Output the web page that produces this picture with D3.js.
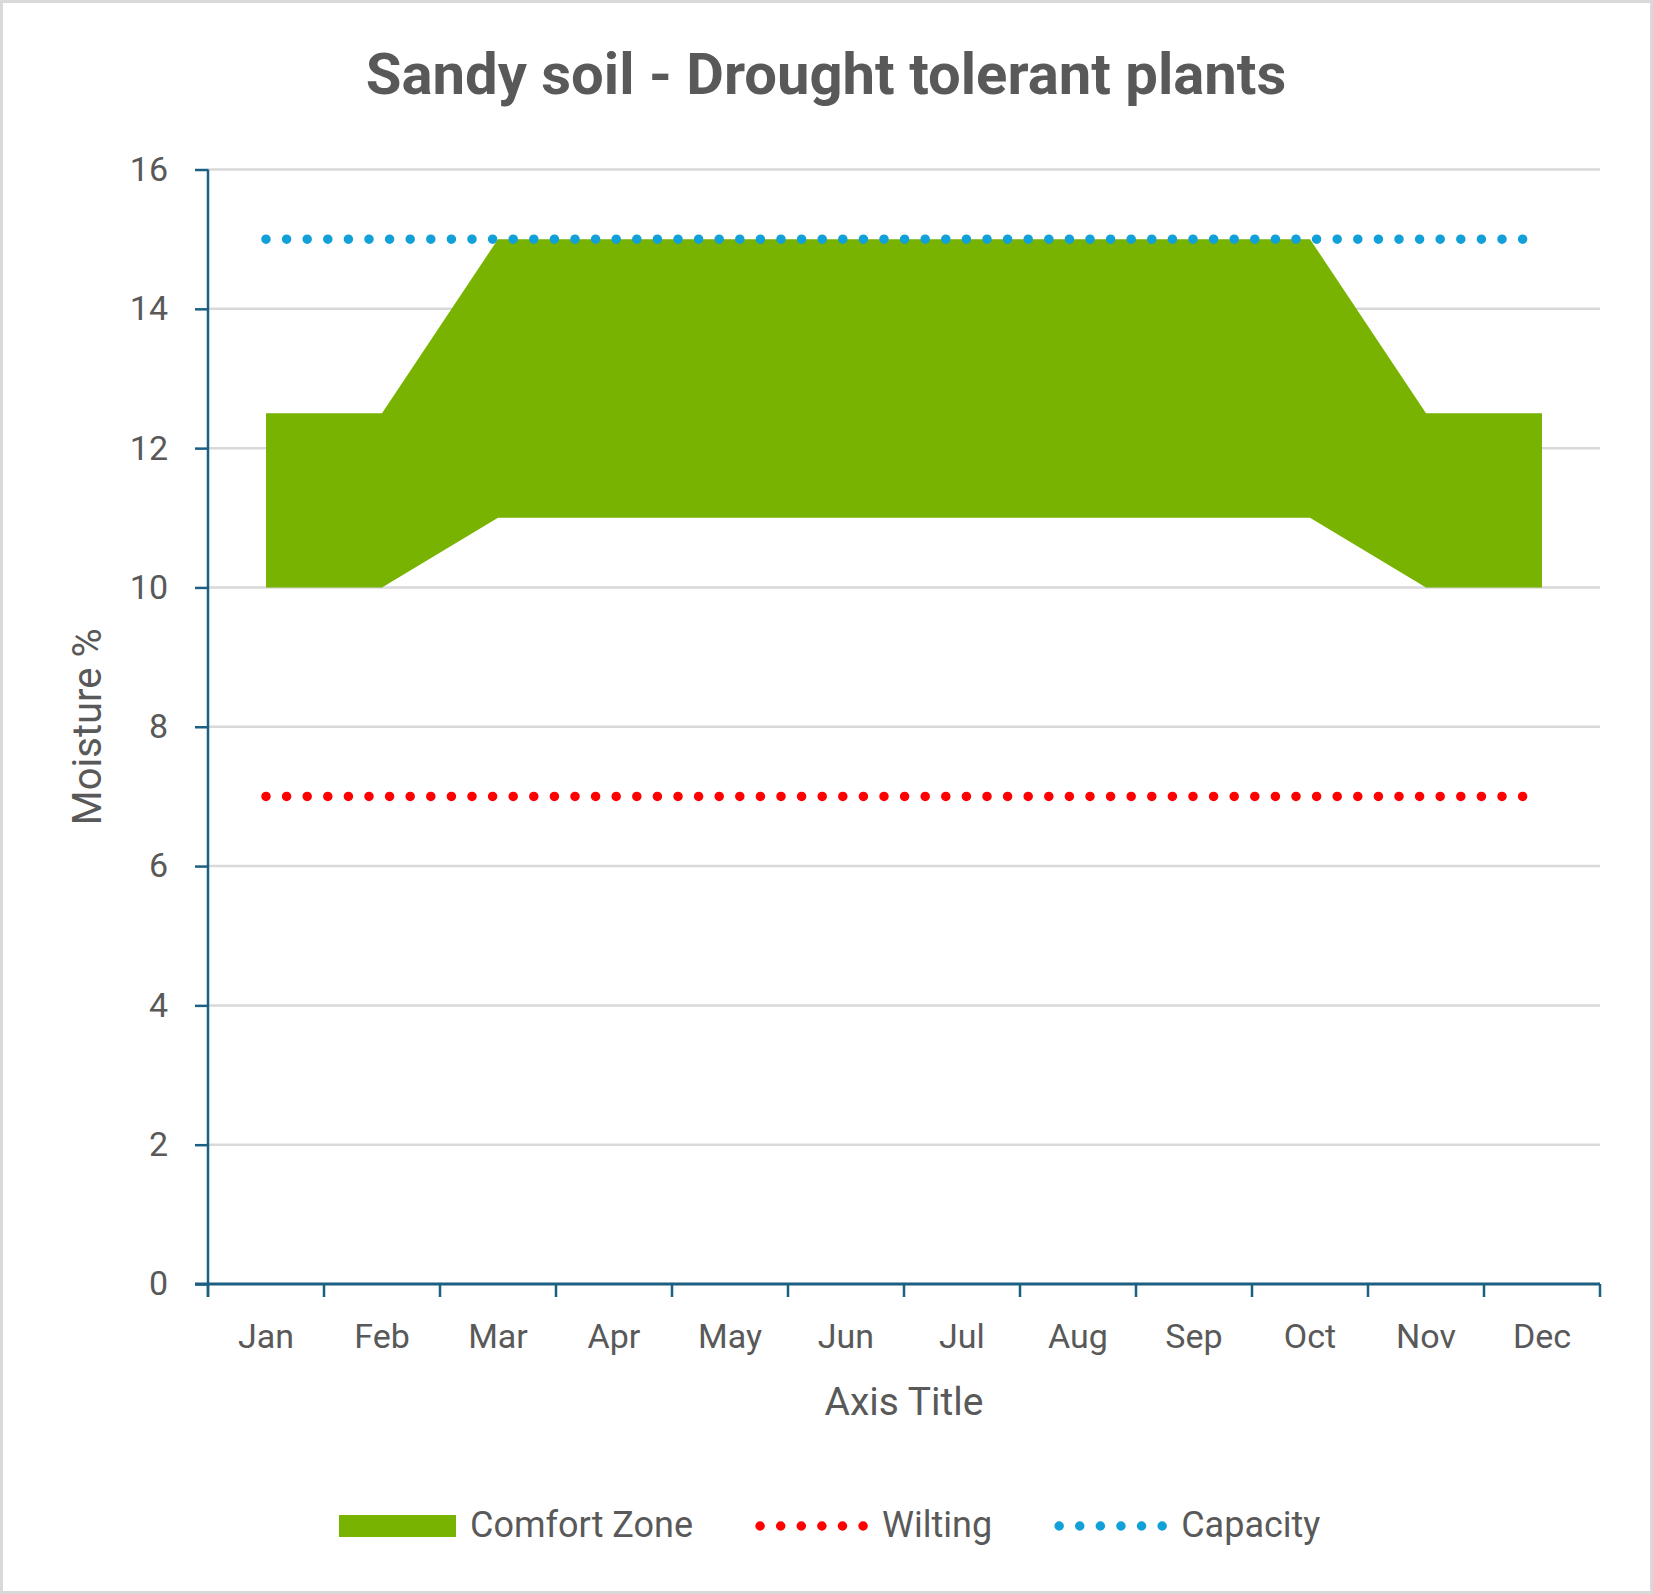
<!DOCTYPE html>
<html>
<head>
<meta charset="utf-8">
<title>Sandy soil - Drought tolerant plants</title>
<script src="https://cdn.jsdelivr.net/npm/d3@7"></script>
<style>
	html, body { margin: 0; padding: 0; background: #ffffff; }
	svg { display: block; font-family: Roboto, "Open Sans", sans-serif; }
</style>
</head>
<body>
<div id="chart"></div>
<script>
// Soil moisture chart - comfort zone band with wilting / capacity limits
const months = ['Jan', 'Feb', 'Mar', 'Apr', 'May', 'Jun', 'Jul', 'Aug', 'Sep', 'Oct', 'Nov', 'Dec'];
const comfortLow = [10, 10, 11, 11, 11, 11, 11, 11, 11, 11, 10, 10];
const comfortHigh = [12.5, 12.5, 15, 15, 15, 15, 15, 15, 15, 15, 12.5, 12.5];
const wilting = [7, 7, 7, 7, 7, 7, 7, 7, 7, 7, 7, 7];
const capacity = [15, 15, 15, 15, 15, 15, 15, 15, 15, 15, 15, 15];
const yTicks = [0, 2, 4, 6, 8, 10, 12, 14, 16];
const legendNames = ['Comfort Zone', 'Wilting', 'Capacity'];

(function() {
	'use strict';

	const width = 1653;
	const height = 1594;
	const margin = { top: 169.5, right: 53, bottom: 310, left: 208 };

	const textColor = '#595959';
	const axisColor = '#1b5f82';
	const gridColor = '#d9d9d9';
	const green = '#77b300';
	const red = '#ff0000';
	const blue = '#12a0d8';

	const svg = d3.select('#chart')
		.append('svg')
		.attr('width', width)
		.attr('height', height)
		.attr('viewBox', [0, 0, width, height]);

	// Outer chart border
	svg.append('rect')
		.attr('x', 1.5)
		.attr('y', 1.5)
		.attr('width', width - 3)
		.attr('height', height - 3)
		.attr('fill', '#ffffff')
		.attr('stroke', gridColor)
		.attr('stroke-width', 3);

	const x = d3.scaleBand()
		.domain(months)
		.range([margin.left, width - margin.right])
		.padding(0);

	const y = d3.scaleLinear()
		.domain([0, 16])
		.range([height - margin.bottom, margin.top]);

	function cx(d, i) { return x(months[i]) + x.bandwidth() / 2; }

	// Gridlines
	svg.append('g')
		.selectAll('line')
		.data(yTicks.filter(function(t) { return t > 0; }))
		.enter().append('line')
		.attr('x1', margin.left)
		.attr('x2', width - margin.right)
		.attr('y1', function(d) { return y(d); })
		.attr('y2', function(d) { return y(d); })
		.attr('stroke', gridColor)
		.attr('stroke-width', 2.5);

	// Comfort zone band
	const area = d3.area()
		.x(cx)
		.y0(function(d, i) { return y(comfortLow[i]); })
		.y1(function(d) { return y(d); });

	svg.append('path')
		.datum(comfortHigh)
		.attr('d', area)
		.attr('fill', green);

	// Dotted limit lines
	const line = d3.line()
		.x(cx)
		.y(function(d) { return y(d); });

	[[wilting, red], [capacity, blue]].forEach(function(s) {
		svg.append('path')
			.datum(s[0])
			.attr('d', line)
			.attr('fill', 'none')
			.attr('stroke', s[1])
			.attr('stroke-width', 9.5)
			.attr('stroke-linecap', 'round')
			.attr('stroke-dasharray', '0 20.6');
	});

	// Y axis
	const yAxis = svg.append('g')
		.attr('transform', 'translate(' + margin.left + ',0)')
		.call(d3.axisLeft(y).tickValues(yTicks).tickSize(13).tickPadding(27));
	yAxis.select('.domain')
		.attr('stroke', axisColor)
		.attr('stroke-width', 2.5)
		.attr('d', 'M0,' + y(16) + 'V' + (y(0) + 13));
	yAxis.selectAll('.tick line')
		.attr('stroke', axisColor)
		.attr('stroke-width', 2.5);
	yAxis.selectAll('.tick text')
		.attr('fill', textColor)
		.attr('font-size', 34)
		.attr('font-family', 'Roboto');

	// X axis (ticks at category boundaries)
	const xAxis = svg.append('g')
		.attr('transform', 'translate(0,' + y(0) + ')');
	xAxis.append('line')
		.attr('x1', margin.left - 13)
		.attr('x2', width - margin.right)
		.attr('stroke', axisColor)
		.attr('stroke-width', 3);
	xAxis.selectAll('.bound')
		.data(months.concat(['end']))
		.enter().append('line')
		.attr('class', 'bound')
		.attr('x1', function(d, i) { return i < months.length ? x(d) : x.range()[1]; })
		.attr('x2', function(d, i) { return i < months.length ? x(d) : x.range()[1]; })
		.attr('y1', 0)
		.attr('y2', 13)
		.attr('stroke', axisColor)
		.attr('stroke-width', 2.5);
	xAxis.selectAll('.lbl')
		.data(months)
		.enter().append('text')
		.attr('class', 'lbl')
		.attr('x', function(d) { return x(d) + x.bandwidth() / 2; })
		.attr('y', 64)
		.attr('text-anchor', 'middle')
		.attr('fill', textColor)
		.attr('font-size', 34)
		.text(function(d) { return d; });

	// Titles
	svg.append('text')
		.attr('x', 826)
		.attr('y', 94)
		.attr('text-anchor', 'middle')
		.attr('fill', textColor)
		.attr('font-size', 58)
		.attr('font-weight', 'bold')
		.text('Sandy soil - Drought tolerant plants');

	svg.append('text')
		.attr('x', (x.range()[0] + x.range()[1]) / 2)
		.attr('y', 1415)
		.attr('text-anchor', 'middle')
		.attr('fill', textColor)
		.attr('font-size', 39)
		.text('Axis Title');

	svg.append('text')
		.attr('transform', 'translate(101,' + ((y(0) + y(16)) / 2) + ') rotate(-90)')
		.attr('text-anchor', 'middle')
		.attr('fill', textColor)
		.attr('font-size', 40)
		.text('Moisture %');

	// Legend
	const legend = svg.append('g')
		.attr('transform', 'translate(339,1537)');
	let lx = 0;
	legendNames.forEach(function(name, i) {
		const item = legend.append('g').attr('transform', 'translate(' + lx + ',0)');
		if (i === 0) {
			item.append('rect')
				.attr('x', 0)
				.attr('y', -22)
				.attr('width', 117)
				.attr('height', 22)
				.attr('fill', green);
		} else {
			item.append('line')
				.attr('x1', 5)
				.attr('x2', 109)
				.attr('y1', -11)
				.attr('y2', -11)
				.attr('stroke', i === 1 ? red : blue)
				.attr('stroke-width', 9.5)
				.attr('stroke-linecap', 'round')
				.attr('stroke-dasharray', '0 20.6');
		}
		const sw = i === 0 ? 117 : 113;
		const t = item.append('text')
			.attr('x', sw + 14)
			.attr('y', 0)
			.attr('fill', textColor)
			.attr('font-size', 36)
			.text(name);
		lx += sw + 14 + t.node().getComputedTextLength() + 62;
	});
})();
</script>
</body>
</html>
